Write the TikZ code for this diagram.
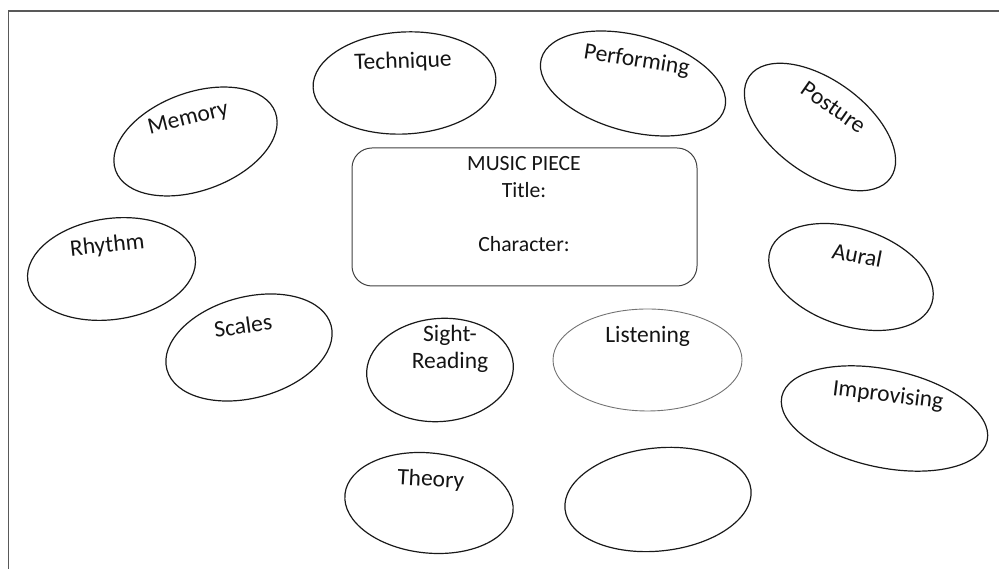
\documentclass[tikz,border=0pt]{standalone}
\usepackage{fontspec}
\setmainfont{Carlito}
\usetikzlibrary{shapes.geometric}
\begin{document}
\begin{tikzpicture}[x=1pt,y=1pt,
  bubble/.style={ellipse, draw=black!90, line width=1.2pt, inner sep=0pt, outer sep=0pt},
  faint/.style={ellipse, draw=black!55, line width=0.9pt, inner sep=0pt, outer sep=0pt},
  word/.style={font=\fontsize{23.5}{27}\selectfont, text=black!92, inner sep=0pt, align=center},
  piecebox/.style={draw=black!75, line width=1pt, rounded corners=20pt, inner sep=0pt},
  piecetext/.style={font=\fontsize{21.7}{27}\selectfont, text=black!92, inner sep=0pt, align=center},
  frame/.style={draw=black!65, line width=1.4pt}]
\useasboundingbox (0,0) rectangle (999,569);
% page frame (left and top edges)
\coordinate (fl) at (8.5,0);
\coordinate (fc) at (8.5,558);
\coordinate (fr) at (999,558);
\draw[frame] (fl) -- (fc) -- (fr);

% central box
\node[piecebox, minimum width=345pt, minimum height=138pt] (piece) at (524.5,352) {};
\node[piecetext] (piecelabel) at (524,364.5) {MUSIC PIECE\\Title:\\[0pt]~\\Character:};

% surrounding bubbles
\node[bubble, minimum width=170pt, minimum height=98pt, rotate=20] (memory) at (195.5,427.5) {};
\node[word, rotate=14] (memoryt) at (188.3,450) {Memory};

\node[bubble, minimum width=183pt, minimum height=102pt, rotate=3] (technique) at (404.5,486) {};
\node[word, rotate=2] (techniquet) at (403,507) {Technique};

\node[bubble, minimum width=190pt, minimum height=96pt, rotate=-15] (performing) at (633,485.5) {};
\node[word, rotate=-9] (performingt) at (636.7,508.3) {Performing};

\node[bubble, minimum width=174pt, minimum height=94pt, rotate=-36] (posture) at (820,442) {};
\node[word, rotate=-35] (posturet) at (833.3,461.7) {Posture};

\node[bubble, minimum width=170pt, minimum height=98pt, rotate=-18] (aural) at (851,292) {};
\node[word, rotate=-11] (auralt) at (857.3,314) {Aural};

\node[bubble, minimum width=210pt, minimum height=98pt, rotate=-12] (improvising) at (884.5,150.5) {};
\node[word, rotate=-7] (improvisingt) at (888,173) {Improvising};

\node[faint, minimum width=189pt, minimum height=102pt] (listening) at (647.5,209) {};
\node[word] (listeningt) at (647.7,233) {Listening};

\node[bubble, minimum width=187pt, minimum height=103pt, rotate=6] (blank) at (658,69.5) {};

\node[bubble, minimum width=147pt, minimum height=103pt, rotate=5] (sight) at (440,199) {};
\node[word] (sightt) at (450,220.5) {Sight-\\Reading};

\node[bubble, minimum width=169pt, minimum height=100pt, rotate=-6] (theory) at (429,66) {};
\node[word, rotate=-3] (theoryt) at (430.7,89) {Theory};

\node[bubble, minimum width=170pt, minimum height=101pt, rotate=15] (scales) at (249,221.5) {};
\node[word, rotate=8] (scalest) at (243,243.3) {Scales};

\node[bubble, minimum width=169pt, minimum height=101pt, rotate=8] (rhythm) at (111.5,300) {};
\node[word, rotate=6] (rhythmt) at (107.3,323) {Rhythm};
\end{tikzpicture}
\end{document}
